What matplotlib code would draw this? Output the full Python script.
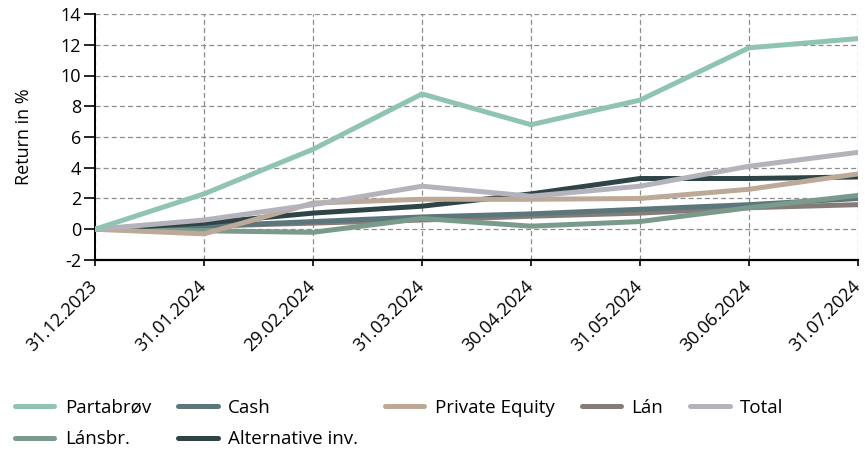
import matplotlib
matplotlib.use("Agg")
import matplotlib.pyplot as plt

plt.rcParams['font.family'] = ['Open Sans', 'DejaVu Sans']
plt.rcParams['axes.unicode_minus'] = False

dates = ["31.12.2023", "31.01.2024", "29.02.2024", "31.03.2024",
         "30.04.2024", "31.05.2024", "30.06.2024", "31.07.2024"]

partabrov = [0, 2.3, 5.2, 8.8, 6.8, 8.4, 11.8, 12.4]
lansbr = [0, -0.1, -0.2, 0.7, 0.2, 0.5, 1.4, 2.2]
cash = [0, 0.2, 0.5, 0.8, 1.0, 1.3, 1.6, 2.0]
alternative = [0, 0.4, 1.05, 1.5, 2.3, 3.3, 3.3, 3.4]
private_equity = [0, -0.3, 1.7, 1.95, 1.95, 2.0, 2.6, 3.6]
lan = [0, 0.2, 0.4, 0.6, 0.85, 1.05, 1.4, 1.6]
total = [0, 0.6, 1.6, 2.8, 2.15, 2.8, 4.1, 5.0]

series = [
    ("Partabrøv", partabrov, "#8fc4b2"),
    ("Lánsbr.", lansbr, "#7a9a8b"),
    ("Cash", cash, "#5c777b"),
    ("Alternative inv.", alternative, "#2f4447"),
    ("Private Equity", private_equity, "#bda998"),
    ("Lán", lan, "#857b77"),
    ("Total", total, "#b4b2ba"),
]

fig = plt.figure(figsize=(8.65, 4.5), dpi=100)
W, H = 865, 450
# axes box in pixels: left 95, right 858, top 14, bottom 260
ax = fig.add_axes([95 / W, 1 - 260 / H, (858 - 95) / W, (260 - 14) / H])

x = list(range(len(dates)))
draw_order = ["Lán", "Cash", "Lánsbr.", "Alternative inv.", "Private Equity", "Total", "Partabrøv"]
lines = {}
for name, vals, col in series:
    ln, = ax.plot(x, vals, color=col, lw=3.6, label=name,
                  zorder=3 + draw_order.index(name), solid_capstyle='round')
    lines[name] = ln

ax.set_xlim(0, len(dates) - 1)
ax.set_ylim(-2, 14)
ax.set_yticks(range(-2, 15, 2))
ax.set_xticks(x)
ax.set_xticklabels(dates, rotation=45, ha='right', va='center',
                   rotation_mode='anchor', fontsize=13)
ax.tick_params(axis='y', labelsize=13, length=8, width=1.2, pad=2)
ax.tick_params(axis='x', length=4, width=1.2, pad=13)
ax.grid(True, color='#8c8c8c', ls=(0, (4, 2.5)), lw=0.9)
ax.set_axisbelow(True)
for s in ['top', 'right']:
    ax.spines[s].set_visible(False)
ax.spines['left'].set_linewidth(1.4)
ax.spines['bottom'].set_linewidth(1.6)
ax.set_ylabel("Return in %", fontsize=13)
ax.yaxis.set_label_coords((33 - 95) / (858 - 95), 0.5)

handles = [lines[n] for n, _, _ in series]
labels = [n for n, _, _ in series]
fig.legend(handles, labels, ncol=5, loc='upper left',
           bbox_to_anchor=(15 / W, 1 - 399 / H), borderaxespad=0, borderpad=0,
           frameon=False, fontsize=13.5, handlelength=2.1, handletextpad=0.55,
           columnspacing=1.45, labelspacing=0.7)

fig.savefig("out.png", dpi=100)
